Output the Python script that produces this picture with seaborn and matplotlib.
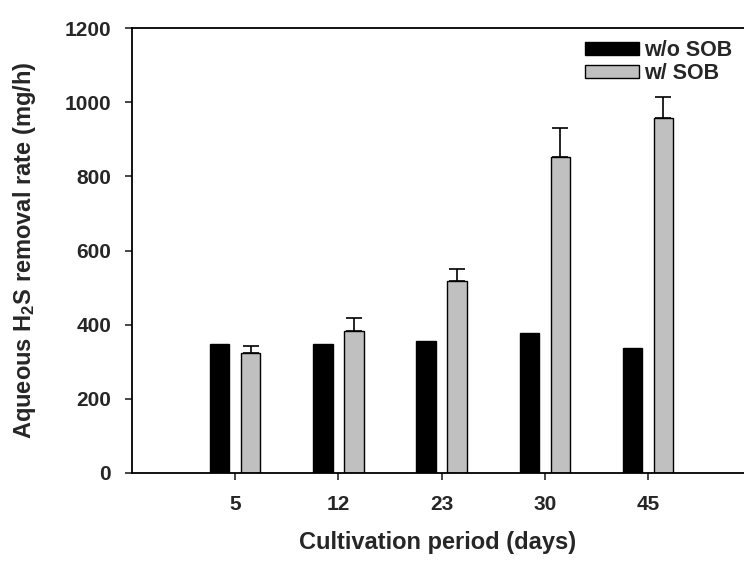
import matplotlib
matplotlib.use("Agg")
import matplotlib.pyplot as plt
import seaborn as sns
import pandas as pd
import numpy as np

days = ["5", "12", "23", "30", "45"]
without_sob = [347, 347, 357, 378, 337]
with_sob = [323, 384, 518, 851, 958]
with_sob_err = [19, 35, 31, 80, 57]
groups = ["w/o SOB", "w/ SOB"]

df = pd.DataFrame({
    "day": days * 2,
    "rate": without_sob + with_sob,
    "group": [groups[0]] * len(days) + [groups[1]] * len(days),
})

sns.set_style("ticks")
plt.rcParams["font.family"] = ["Liberation Sans", "DejaVu Sans"]
plt.rcParams["font.weight"] = "bold"
plt.rcParams["mathtext.fontset"] = "custom"
plt.rcParams["mathtext.rm"] = "Liberation Sans:bold"
plt.rcParams["mathtext.it"] = "Liberation Sans:bold"
plt.rcParams["mathtext.bf"] = "Liberation Sans:bold"
plt.rcParams["mathtext.default"] = "rm"

fig = plt.figure(figsize=(7.44, 5.61), dpi=100)
ax = fig.add_axes([0.1774, 0.1569, 0.8226, 0.7931])

sns.barplot(data=df, x="day", y="rate", hue="group", order=days, hue_order=groups,
            palette={"w/o SOB": "black", "w/ SOB": "#c0c0c0"},
            width=0.6, gap=0.37, edgecolor="black", linewidth=1.0,
            errorbar=None, ax=ax)

# upward-only error bars on the w/ SOB bars
gray_bars = ax.containers[1]
xs = [p.get_x() + p.get_width() / 2 for p in gray_bars]
ax.errorbar(xs, with_sob, yerr=[np.zeros(len(with_sob_err)), with_sob_err],
            fmt="none", ecolor="black", elinewidth=1.2, capsize=6, capthick=1.2)

ax.set_ylim(0, 1200)
ax.set_yticks(range(0, 1201, 200))
ax.set_xlim(-1.0, 4.93)

ax.set_xlabel("Cultivation period (days)", fontsize=17, fontweight="bold", labelpad=12)
ax.set_ylabel("Aqueous H$_2$S removal rate (mg/h)", fontsize=17, fontweight="bold", labelpad=19)
ax.tick_params(axis="both", direction="out", length=5, width=1.2, labelsize=15)
ax.tick_params(axis="x", pad=11)
ax.tick_params(axis="y", pad=10)
for lbl in ax.get_xticklabels() + ax.get_yticklabels():
    lbl.set_fontweight("bold")

for side in ["left", "bottom", "top"]:
    ax.spines[side].set_linewidth(1.3)
    ax.spines[side].set_color("black")
ax.spines["right"].set_visible(False)

leg = ax.legend(loc="upper right", bbox_to_anchor=(1.0, 1.0), frameon=False,
                borderaxespad=0.15, handlelength=2.5, handleheight=0.55, handletextpad=0.25,
                labelspacing=0.1, prop={"size": 15.5, "weight": "bold"})

fig.savefig("out.png", dpi=100)
